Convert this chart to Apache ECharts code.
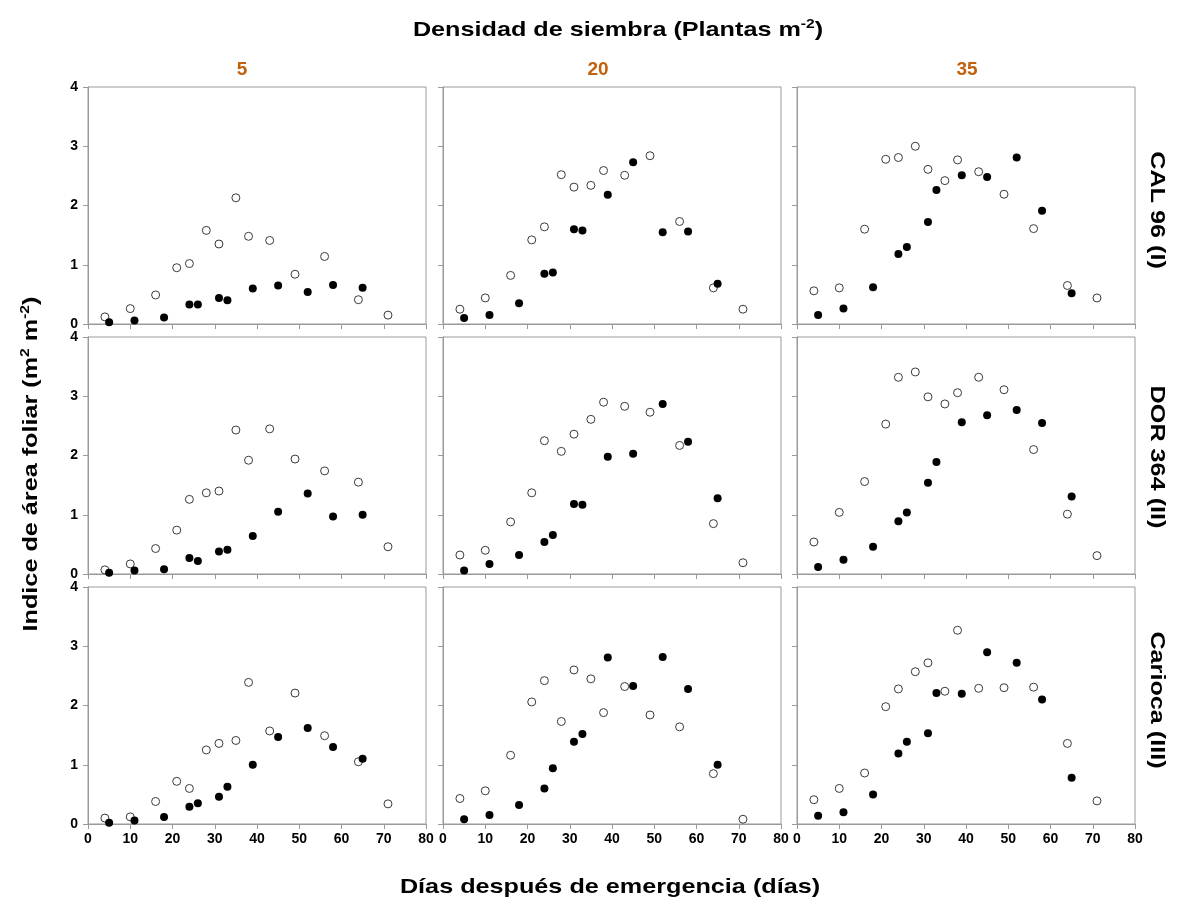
<!DOCTYPE html>
<html>
<head>
<meta charset="utf-8">
<title>Indice de área foliar</title>
<script src="https://cdn.jsdelivr.net/npm/echarts@6.0.0/dist/echarts.min.js"></script>
<style>
  html, body { margin: 0; padding: 0; background: #fff; }
  #main { width: 1178px; height: 905px; }
</style>
</head>
<body>
<div id="main"></div>
<script>
// días después de emergencia de cada muestreo
const diasAbiertos = [4, 10, 16, 21, 24, 28, 31, 35, 38, 43, 49, 56, 64, 71];
const diasLlenos = [5, 11, 18, 24, 26, 31, 33, 39, 45, 52, 58, 65];

const densidades = ['5', '20', '35'];
const cultivares = ['CAL 96 (I)', 'DOR 364 (II)', 'Carioca (III)'];

// IAF, por cultivar y densidad
const cal96_5_abiertos = [0.12, 0.26, 0.49, 0.95, 1.02, 1.58, 1.35, 2.13, 1.48, 1.41, 0.84, 1.14, 0.41, 0.15];
const cal96_5_llenos = [0.03, 0.06, 0.11, 0.33, 0.33, 0.44, 0.40, 0.60, 0.65, 0.54, 0.66, 0.61];
const cal96_20_abiertos = [0.25, 0.44, 0.82, 1.42, 1.64, 2.52, 2.31, 2.34, 2.59, 2.51, 2.84, 1.73, 0.61, 0.25];
const cal96_20_llenos = [0.10, 0.15, 0.35, 0.85, 0.87, 1.60, 1.58, 2.18, 2.73, 1.55, 1.56, 0.68];
const cal96_35_abiertos = [0.56, 0.61, 1.60, 2.78, 2.81, 3.00, 2.61, 2.42, 2.77, 2.57, 2.19, 1.61, 0.65, 0.44];
const cal96_35_llenos = [0.15, 0.26, 0.62, 1.18, 1.30, 1.72, 2.26, 2.51, 2.48, 2.81, 1.91, 0.52];

const dor364_5_abiertos = [0.07, 0.17, 0.43, 0.74, 1.26, 1.37, 1.40, 2.43, 1.92, 2.45, 1.94, 1.74, 1.55, 0.46];
const dor364_5_llenos = [0.02, 0.06, 0.08, 0.27, 0.22, 0.38, 0.41, 0.64, 1.05, 1.36, 0.97, 1.00];
const dor364_20_abiertos = [0.32, 0.40, 0.88, 1.37, 2.25, 2.07, 2.36, 2.61, 2.90, 2.83, 2.73, 2.17, 0.85, 0.19];
const dor364_20_llenos = [0.06, 0.17, 0.32, 0.54, 0.66, 1.18, 1.17, 1.98, 2.03, 2.87, 2.23, 1.28];
const dor364_35_abiertos = [0.54, 1.04, 1.56, 2.53, 3.32, 3.41, 2.99, 2.87, 3.06, 3.32, 3.11, 2.10, 1.01, 0.31];
const dor364_35_llenos = [0.12, 0.24, 0.46, 0.89, 1.04, 1.54, 1.89, 2.56, 2.68, 2.77, 2.55, 1.31];

const carioca_5_abiertos = [0.10, 0.12, 0.38, 0.72, 0.60, 1.25, 1.36, 1.41, 2.39, 1.57, 2.21, 1.49, 1.05, 0.34];
const carioca_5_llenos = [0.02, 0.06, 0.12, 0.29, 0.35, 0.46, 0.63, 1.00, 1.47, 1.62, 1.30, 1.10];
const carioca_20_abiertos = [0.43, 0.56, 1.16, 2.06, 2.42, 1.73, 2.60, 2.45, 1.88, 2.32, 1.84, 1.64, 0.85, 0.08];
const carioca_20_llenos = [0.08, 0.15, 0.32, 0.60, 0.94, 1.39, 1.52, 2.81, 2.33, 2.82, 2.28, 1.00];
const carioca_35_abiertos = [0.41, 0.60, 0.86, 1.98, 2.28, 2.57, 2.72, 2.24, 3.27, 2.29, 2.30, 2.31, 1.36, 0.39];
const carioca_35_llenos = [0.14, 0.20, 0.50, 1.19, 1.39, 1.53, 2.21, 2.20, 2.90, 2.72, 2.10, 0.78];

// fila = cultivar, columna = densidad
const paneles = [
  [[cal96_5_abiertos, cal96_5_llenos], [cal96_20_abiertos, cal96_20_llenos], [cal96_35_abiertos, cal96_35_llenos]],
  [[dor364_5_abiertos, dor364_5_llenos], [dor364_20_abiertos, dor364_20_llenos], [dor364_35_abiertos, dor364_35_llenos]],
  [[carioca_5_abiertos, carioca_5_llenos], [carioca_20_abiertos, carioca_20_llenos], [carioca_35_abiertos, carioca_35_llenos]]
];

const xTicks = [0, 10, 20, 30, 40, 50, 60, 70, 80];
const yTicks = [0, 1, 2, 3, 4];

const chart = echarts.init(document.getElementById('main'));

const fuente = "'Liberation Sans', Arial, sans-serif";
const gris = '#9a9a9a';
const naranja = '#c2600c';

const colLeft = [88, 443, 797];
const rowTop = [87, 337, 587];
const panelW = 338;
const panelH = 237;

const grids = [];
const xAxes = [];
const yAxes = [];
const series = [];

for (let r = 0; r < 3; r++) {
  for (let c = 0; c < 3; c++) {
    const i = r * 3 + c;
    grids.push({
      left: colLeft[c], top: rowTop[r], width: panelW, height: panelH,
      show: true, borderColor: gris, borderWidth: 1, backgroundColor: '#fff'
    });
    xAxes.push({
      type: 'value', gridIndex: i,
      min: xTicks[0], max: xTicks[xTicks.length - 1], interval: xTicks[1] - xTicks[0],
      axisLine: { show: true, lineStyle: { color: gris, width: 1 } },
      axisTick: { show: true, length: 5, lineStyle: { color: gris } },
      splitLine: { show: false },
      axisLabel: {
        show: r === 2, margin: 8, color: '#000',
        fontFamily: fuente, fontWeight: 'bold', fontSize: 14
      }
    });
    yAxes.push({
      type: 'value', gridIndex: i,
      min: yTicks[0], max: yTicks[yTicks.length - 1], interval: 1,
      axisLine: { show: true, lineStyle: { color: gris, width: 1 } },
      axisTick: { show: true, length: 5, lineStyle: { color: gris } },
      splitLine: { show: false },
      axisLabel: {
        show: c === 0, margin: 10, color: '#000',
        fontFamily: fuente, fontWeight: 'bold', fontSize: 14
      }
    });
    const [abiertos, llenos] = paneles[r][c];
    series.push({
      type: 'scatter', xAxisIndex: i, yAxisIndex: i,
      symbol: 'circle', symbolSize: 8,
      itemStyle: { color: '#fff', borderColor: '#3a3a3a', borderWidth: 1, opacity: 1 },
      data: diasAbiertos.map((d, k) => [d, abiertos[k]])
    });
    series.push({
      type: 'scatter', xAxisIndex: i, yAxisIndex: i,
      symbol: 'circle', symbolSize: 8,
      itemStyle: { color: '#000', opacity: 1 },
      data: diasLlenos.map((d, k) => [d, llenos[k]])
    });
  }
}

// estilos de texto grande (con superíndices)
const richGrande = {
  a: { fontFamily: fuente, fontWeight: 'bold', fontSize: 21, fill: '#000', lineHeight: 24 },
  s: { fontFamily: fuente, fontWeight: 'bold', fontSize: 13, fill: '#000', verticalAlign: 'top', lineHeight: 24 }
};
const estira = 1.2;

const graficos = [
  {
    type: 'text', x: 618, y: 30, scaleX: estira,
    style: {
      text: '{a|Densidad de siembra (Plantas m}{s|-2}{a|)}',
      rich: richGrande, align: 'center', verticalAlign: 'middle'
    }
  },
  {
    type: 'text', x: 610, y: 887, scaleX: estira,
    style: {
      text: 'Días después de emergencia (días)',
      font: 'bold 21px ' + fuente, fill: '#000', align: 'center', verticalAlign: 'middle'
    }
  },
  {
    type: 'text', x: 31, y: 464, rotation: Math.PI / 2, scaleX: estira,
    style: {
      text: '{a|Indice de área foliar (m}{s|2}{a| m}{s|-2}{a|)}',
      rich: richGrande, align: 'center', verticalAlign: 'middle'
    }
  }
];

const colX = [242, 598, 967];
densidades.forEach((d, c) => {
  graficos.push({
    type: 'text', x: colX[c], y: 70,
    style: {
      text: d, font: 'bold 19px ' + fuente, fill: naranja,
      align: 'center', verticalAlign: 'middle'
    }
  });
});

const filaY = [210, 457, 700];
cultivares.forEach((nombre, r) => {
  graficos.push({
    type: 'text', x: 1157, y: filaY[r], rotation: -Math.PI / 2, scaleX: estira,
    style: {
      text: nombre, font: 'bold 21px ' + fuente, fill: '#000',
      align: 'center', verticalAlign: 'middle'
    }
  });
});

const option = {
  animation: false,
  backgroundColor: '#fff',
  grid: grids,
  xAxis: xAxes,
  yAxis: yAxes,
  series: series,
  graphic: graficos
};

chart.setOption(option);
</script>
</body>
</html>
